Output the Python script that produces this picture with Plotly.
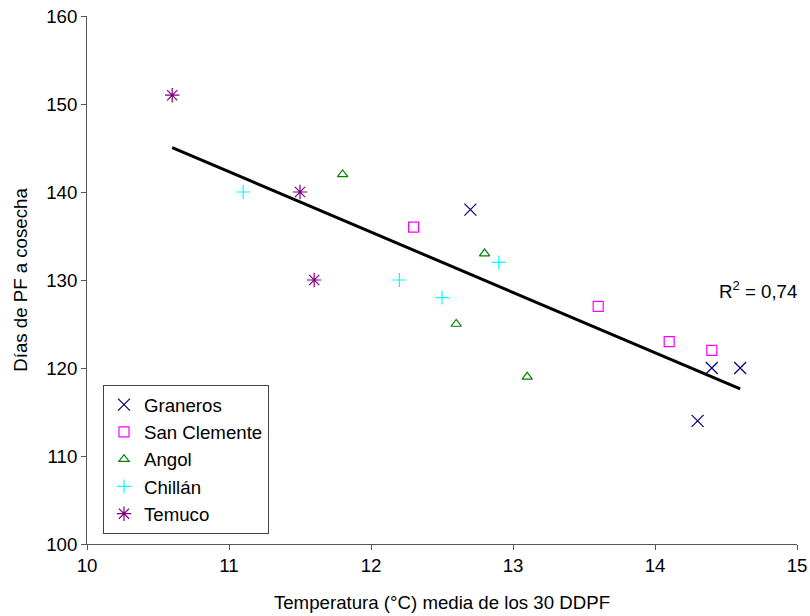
import numpy as np
import plotly.graph_objects as go

series_names = ["Graneros", "San Clemente", "Angol", "Chillán", "Temuco"]
graneros_x = [12.7, 14.4, 14.6, 14.3]
graneros_y = [138, 120, 120, 114]
sanclemente_x = [12.3, 13.6, 14.1, 14.4]
sanclemente_y = [136, 127, 123, 122]
angol_x = [11.8, 12.8, 12.6, 13.1]
angol_y = [142, 133, 125, 119]
chillan_x = [11.1, 12.2, 12.5, 12.9]
chillan_y = [140, 130, 128, 132]
temuco_x = [10.6, 11.5, 11.6]
temuco_y = [151, 140, 130]

xs = [graneros_x, sanclemente_x, angol_x, chillan_x, temuco_x]
ys = [graneros_y, sanclemente_y, angol_y, chillan_y, temuco_y]
colors = ["#000080", "#FF00FF", "#008000", "#00FFFF", "#800080"]
symbols = ["x-thin-open", "square-open", "triangle-up-open", "cross-thin-open", "asterisk-open"]
sizes = [12, 10, 9, 10, 12]

FS = 18.67
fig = go.Figure()
for name, x, y, c, s, sz in zip(series_names, xs, ys, colors, symbols, sizes):
    fig.add_trace(go.Scatter(x=x, y=y, mode="markers", name=name,
                             marker=dict(symbol=s, size=sz, color=c,
                                         line=dict(color=c, width=1.2))))

allx = np.concatenate([np.array(v, float) for v in xs])
ally = np.concatenate([np.array(v, float) for v in ys])
slope, intercept = np.polyfit(allx, ally, 1)
pred = slope * allx + intercept
r2 = 1 - np.sum((ally - pred) ** 2) / np.sum((ally - ally.mean()) ** 2)
lx = np.array([allx.min(), allx.max()])
fig.add_trace(go.Scatter(x=lx, y=slope * lx + intercept, mode="lines",
                         line=dict(color="black", width=3), showlegend=False,
                         hoverinfo="skip"))

fig.add_annotation(x=14.437, y=128.9, xref="x", yref="y",
                   text="R<sup>2</sup> = " + f"{r2:.2f}".replace(".", ","),
                   showarrow=False, font=dict(size=FS, color="black"),
                   xanchor="left", yanchor="middle")

axis_common = dict(showgrid=False, zeroline=False, showline=True, linecolor="#555555",
                   linewidth=1, ticks="outside", ticklen=5, tickcolor="#555555",
                   tickfont=dict(size=FS, color="black"), mirror=False, automargin=False,
                   ticklabeloverflow="allow")
fig.update_xaxes(range=[10, 15], dtick=1, title=dict(text="Temperatura (°C) media de los 30 DDPF",
                 font=dict(size=FS, color="black"), standoff=20), **axis_common)
fig.update_yaxes(range=[100, 160], dtick=10, title=dict(text="Días de PF a cosecha",
                 font=dict(size=FS, color="black"), standoff=13), **axis_common)

fig.update_layout(
    width=810, height=616,
    margin=dict(l=87, r=13, t=16, b=72),
    plot_bgcolor="white", paper_bgcolor="white",
    font=dict(family="Liberation Sans, Arial, sans-serif", size=FS, color="black"),
    legend=dict(x=0.0225, y=0.019, xanchor="left", yanchor="bottom",
                bordercolor="#444444", borderwidth=1, bgcolor="white",
                font=dict(size=FS), tracegroupgap=0, itemwidth=30),
)
fig.write_html("out.html", config={"displayModeBar": False},
               post_script="document.body.style.margin='0';document.body.style.overflow='hidden';")
